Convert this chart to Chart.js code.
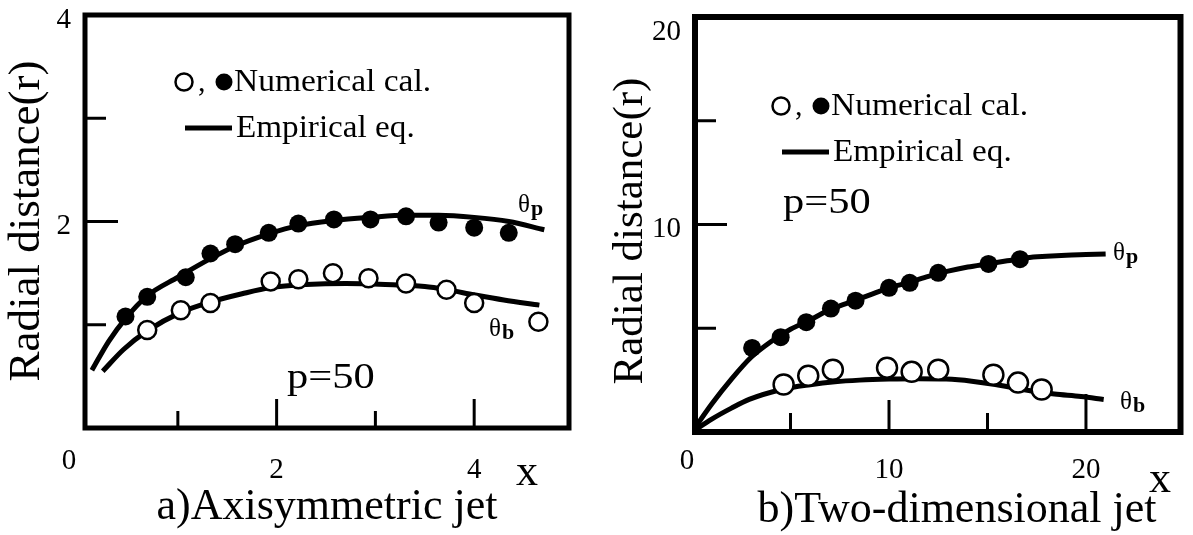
<!DOCTYPE html>
<html>
<head>
<meta charset="utf-8">
<script src="https://cdn.jsdelivr.net/npm/chart.js@4.4.1/dist/chart.umd.min.js"></script>
<style>
  html, body { margin: 0; padding: 0; background: #fff; overflow: hidden; }
  #wrap { position: relative; width: 1193px; height: 535px; }
  canvas { position: absolute; top: 0; }
</style>
</head>
<body>
<div id="wrap">
  <canvas id="axi" width="596" height="535" style="left:0"></canvas>
  <canvas id="two" width="597" height="535" style="left:596px"></canvas>
</div>
<script>
// a) Axisymmetric jet - numerical points
const axiPeakX = [0.47, 0.69, 1.08, 1.33, 1.58, 1.92, 2.22, 2.58, 2.95, 3.31, 3.64, 4.00, 4.35];
const axiPeakY = [1.08, 1.27, 1.46, 1.69, 1.78, 1.89, 1.98, 2.02, 2.02, 2.05, 1.99, 1.94, 1.89];
const axiBndX = [0.69, 1.03, 1.33, 1.94, 2.22, 2.57, 2.93, 3.31, 3.72, 4.00, 4.65];
const axiBndY = [0.95, 1.14, 1.21, 1.42, 1.44, 1.50, 1.45, 1.40, 1.34, 1.21, 1.03];
// a) empirical curves
const axiPeakCurveX = [0.13, 0.3, 0.47, 0.69, 1.0, 1.33, 1.58, 1.92, 2.22, 2.58, 2.95, 3.31, 3.64, 4.0, 4.35, 4.71];
const axiPeakCurveY = [0.56, 0.84, 1.06, 1.28, 1.46, 1.64, 1.76, 1.88, 1.96, 2.01, 2.04, 2.06, 2.06, 2.04, 2.00, 1.92];
const axiBndCurveX = [0.24, 0.45, 0.69, 1.03, 1.33, 1.65, 1.94, 2.3, 2.7, 3.1, 3.5, 3.72, 4.0, 4.3, 4.66];
const axiBndCurveY = [0.55, 0.76, 0.94, 1.12, 1.22, 1.30, 1.36, 1.39, 1.40, 1.39, 1.37, 1.34, 1.29, 1.24, 1.19];
const axiXLabels = [0, 2, 4];
const axiYLabels = [2, 4];
const axiXTicks = [1, 2, 3, 4];
const axiYTicks = [1, 2, 3];

// b) Two-dimensional jet - numerical points
const twoPeakX = [3.05, 4.5, 5.8, 7.05, 8.3, 10.0, 11.05, 12.5, 15.05, 16.65];
const twoPeakY = [4.05, 4.57, 5.29, 5.95, 6.33, 6.95, 7.19, 7.67, 8.10, 8.33];
const twoBndX = [4.65, 5.9, 7.15, 9.9, 11.15, 12.5, 15.3, 16.55, 17.75];
const twoBndY = [2.29, 2.71, 3.0, 3.1, 2.9, 3.0, 2.76, 2.38, 2.05];
// b) empirical curves
const twoPeakCurveX = [0, 1, 2, 3, 4, 5, 6, 7, 8, 9, 10, 11, 12, 13, 14, 15, 16, 17, 18, 19, 20, 21];
const twoPeakCurveY = [0, 1.35, 2.55, 3.6, 4.35, 4.95, 5.4, 5.9, 6.25, 6.6, 6.95, 7.2, 7.5, 7.75, 7.95, 8.1, 8.25, 8.4, 8.47, 8.52, 8.55, 8.58];
const twoBndCurveX = [0, 1, 2, 2.9, 4.55, 6.0, 7.25, 8.5, 10.0, 11.4, 12.9, 14.2, 15.4, 16.25, 17.4, 18.4, 19.75, 20.9];
const twoBndCurveY = [0, 0.62, 1.15, 1.57, 2.05, 2.28, 2.42, 2.5, 2.55, 2.57, 2.55, 2.45, 2.29, 2.14, 1.95, 1.83, 1.71, 1.57];
const twoXLabels = [0, 10, 20];
const twoYLabels = [10, 20];
const twoXTicks = [5, 10, 15, 20];
const twoYTicks = [5, 10, 15];

const SERIF = '"Liberation Serif", "Times New Roman", serif';

function pts(xs, ys) {
    return xs.map((x, i) => ({ x: x, y: ys[i] }));
}

// texte sur le canvas (avec etirement horizontal optionnel)
function txt(ctx, s, x, y, size, o) {
    o = o || {};
    ctx.save();
    ctx.font = (o.bold ? 'bold ' : '') + size + 'px ' + SERIF;
    ctx.fillStyle = '#000';
    ctx.textAlign = o.align || 'left';
    ctx.textBaseline = o.base || 'alphabetic';
    ctx.translate(x, y);
    if (o.rot) ctx.rotate(o.rot);
    ctx.scale(o.sx || 1, 1);
    ctx.fillText(s, 0, 0);
    ctx.restore();
}

function theta(ctx, sub, x, y) {
    txt(ctx, '\u03b8', x, y, 25, { base: 'middle' });
    txt(ctx, sub, x + 13, y + 4, 22, { base: 'middle', bold: true });
}

// cadre, graduations interieures, textes
function figurePlugin(f) {
    return {
        id: 'figure',
        afterDraw(chart) {
            const ctx = chart.ctx;
            const a = chart.chartArea;
            const xs = chart.scales.x, ys = chart.scales.y;

            ctx.save();
            ctx.strokeStyle = '#000';
            ctx.lineCap = 'butt';
            ctx.lineWidth = 3;
            f.xTicks.forEach(v => {
                const px = xs.getPixelForValue(v);
                ctx.beginPath();
                ctx.moveTo(px, a.bottom);
                ctx.lineTo(px, a.bottom - f.xTickLen(v));
                ctx.stroke();
            });
            f.yTicks.forEach(v => {
                const py = ys.getPixelForValue(v);
                ctx.beginPath();
                ctx.moveTo(a.left, py);
                ctx.lineTo(a.left + f.yTickLen(v), py);
                ctx.stroke();
            });
            ctx.lineWidth = f.frame;
            ctx.strokeRect(a.left, a.top, a.right - a.left, a.bottom - a.top);
            ctx.restore();

            // etiquettes des axes
            f.xLabels.forEach(v => {
                const px = xs.getPixelForValue(v) + (v === 0 ? f.zeroDx : 0);
                txt(ctx, String(v), px, v === 0 ? 469 : 478, 29, { align: 'center' });
            });
            f.yLabels.forEach(v => {
                let py = ys.getPixelForValue(v) + 5;
                if (py < a.top + f.topLabelDy) py = a.top + f.topLabelDy;
                txt(ctx, String(v), a.left - 14, py, 29, { align: 'right', base: 'middle' });
            });
            txt(ctx, 'x', f.xName[0], f.xName[1], 44, { align: 'center', base: 'middle' });

            // titre vertical et legende
            txt(ctx, 'Radial distance(r)', f.yTitle[0], f.yTitle[1], f.yTitle[2],
                { align: 'center', rot: -Math.PI / 2 });
            txt(ctx, f.caption, f.capX, f.capY, 44, { align: 'center' });

            const L = f.legend;
            ctx.save();
            ctx.lineWidth = 2.5;
            ctx.strokeStyle = '#000';
            ctx.fillStyle = '#fff';
            ctx.beginPath();
            ctx.arc(L.x, L.y, 8.5, 0, Math.PI * 2);
            ctx.fill();
            ctx.stroke();
            ctx.fillStyle = '#000';
            ctx.beginPath();
            ctx.arc(L.x + 40, L.y, 8.5, 0, Math.PI * 2);
            ctx.fill();
            ctx.lineWidth = 5;
            ctx.beginPath();
            ctx.moveTo(L.x + 1, L.y + L.gap);
            ctx.lineTo(L.x + 48, L.y + L.gap);
            ctx.stroke();
            ctx.restore();
            txt(ctx, ',', L.x + 14, L.y + 9, 30);
            txt(ctx, 'Numerical cal.', L.x + 50, L.y + 9, 31, { sx: 1.08 });
            txt(ctx, 'Empirical eq.', L.x + 52, L.y + L.gap + 9, 31, { sx: 1.07 });

            txt(ctx, 'p=50', f.pPos[0], f.pPos[1], 36, { sx: 1.18 });
            theta(ctx, 'p', f.thP[0], f.thP[1]);
            theta(ctx, 'b', f.thB[0], f.thB[1]);
        }
    };
}

function makeChart(id, d) {
    const filled = {
        data: pts(d.peakX, d.peakY),
        pointRadius: d.dot,
        pointBackgroundColor: '#000',
        pointBorderColor: '#000',
        pointBorderWidth: 0,
        showLine: false,
        order: 1
    };
    const open = {
        data: pts(d.bndX, d.bndY),
        pointRadius: d.ring,
        pointBackgroundColor: '#fff',
        pointBorderColor: '#000',
        pointBorderWidth: 2.5,
        showLine: false,
        order: 1
    };
    const curve = (xs, ys) => ({
        data: pts(xs, ys),
        showLine: true,
        borderColor: '#000',
        borderWidth: 5,
        pointRadius: 0,
        cubicInterpolationMode: 'monotone',
        order: 2
    });

    return new Chart(document.getElementById(id), {
        type: 'scatter',
        data: {
            datasets: [filled, open, curve(d.peakCX, d.peakCY), curve(d.bndCX, d.bndCY)]
        },
        options: {
            responsive: false,
            animation: false,
            devicePixelRatio: 1,
            layout: { padding: { left: 0, top: d.top, right: d.right, bottom: 0 } },
            plugins: {
                legend: { display: false },
                tooltip: { enabled: false }
            },
            scales: {
                x: {
                    type: 'linear', min: d.xMin, max: d.xMax,
                    grid: { display: false }, border: { display: false },
                    ticks: { display: false },
                    afterFit: s => { s.height = d.bottom; }
                },
                y: {
                    type: 'linear', min: 0, max: d.yMax,
                    grid: { display: false }, border: { display: false },
                    ticks: { display: false },
                    afterFit: s => { s.width = d.left; }
                }
            }
        },
        plugins: [figurePlugin(d.fig)]
    });
}

makeChart('axi', {
    peakX: axiPeakX, peakY: axiPeakY, bndX: axiBndX, bndY: axiBndY,
    peakCX: axiPeakCurveX, peakCY: axiPeakCurveY, bndCX: axiBndCurveX, bndCY: axiBndCurveY,
    xMin: 0.06, xMax: 4.96, yMax: 4,
    left: 85, top: 15, right: 27, bottom: 107,
    dot: 9, ring: 9,
    fig: {
        frame: 5,
        xTicks: axiXTicks, yTicks: axiYTicks, xLabels: axiXLabels, yLabels: axiYLabels,
        xTickLen: v => (v % 2 === 0 ? 29 : 17),
        yTickLen: v => (v % 2 === 0 ? 33 : 21),
        zeroDx: -10, topLabelDy: 5,
        xName: [527, 473], yTitle: [39, 221, 45],
        caption: 'a)Axisymmetric jet', capX: 327, capY: 519,
        legend: { x: 184, y: 82, gap: 46 },
        pPos: [287, 388], thP: [518, 205], thB: [489, 329]
    }
});

makeChart('two', {
    peakX: twoPeakX, peakY: twoPeakY, bndX: twoBndX, bndY: twoBndY,
    peakCX: twoPeakCurveX, peakCY: twoPeakCurveY, bndCX: twoBndCurveX, bndCY: twoBndCurveY,
    xMin: 0.15, xMax: 24.8, yMax: 20,
    left: 99, top: 17, right: 5, bottom: 103,
    dot: 9, ring: 10,
    fig: {
        frame: 6,
        xTicks: twoXTicks, yTicks: twoYTicks, xLabels: twoXLabels, yLabels: twoYLabels,
        xTickLen: v => (v === 20 ? 38 : v === 10 ? 32 : 19),
        yTickLen: v => (v === 10 ? 32 : 21),
        zeroDx: -5, topLabelDy: 15,
        xName: [564, 480], yTitle: [46, 231, 43],
        caption: 'b)Two-dimensional jet', capX: 361, capY: 522,
        legend: { x: 185, y: 106, gap: 46 },
        pPos: [187, 213], thP: [517, 253], thB: [524, 402]
    }
});
</script>
</body>
</html>
